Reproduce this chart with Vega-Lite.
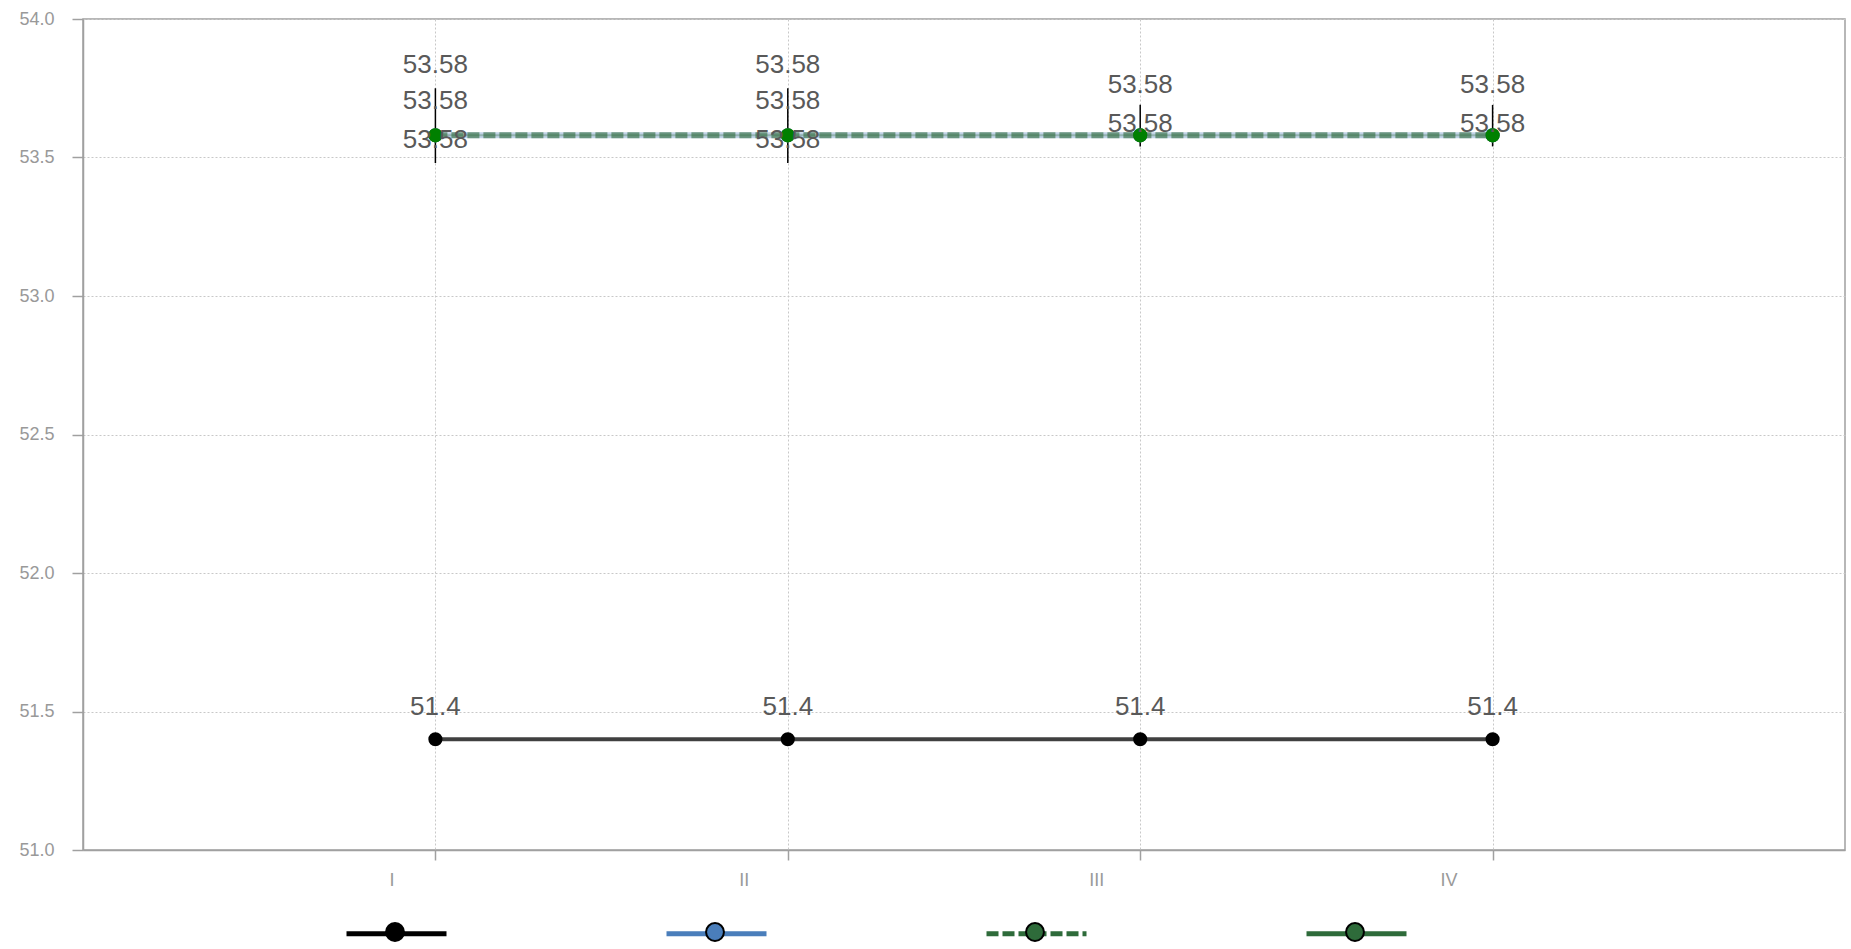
{
  "$schema": "https://vega.github.io/schema/vega-lite/v6.json",
  "width": 1762,
  "height": 831,
  "autosize": {"type": "none"},
  "padding": {"left": 83, "top": 19, "right": 6, "bottom": 99},
  "background": "white",
  "datasets": {
    "main": [
      {"quarter": "I", "series": "S1", "value": 51.4},
      {"quarter": "II", "series": "S1", "value": 51.4},
      {"quarter": "III", "series": "S1", "value": 51.4},
      {"quarter": "IV", "series": "S1", "value": 51.4},
      {"quarter": "I", "series": "S2", "value": 53.58},
      {"quarter": "II", "series": "S2", "value": 53.58},
      {"quarter": "III", "series": "S2", "value": 53.58},
      {"quarter": "IV", "series": "S2", "value": 53.58},
      {"quarter": "I", "series": "S3", "value": 53.58},
      {"quarter": "II", "series": "S3", "value": 53.58},
      {"quarter": "III", "series": "S3", "value": 53.58},
      {"quarter": "IV", "series": "S3", "value": 53.58},
      {"quarter": "I", "series": "S4", "value": 53.58},
      {"quarter": "II", "series": "S4", "value": 53.58},
      {"quarter": "III", "series": "S4", "value": 53.58},
      {"quarter": "IV", "series": "S4", "value": 53.58}
    ],
    "bars": [
      {"quarter": "I", "low": 53.48, "high": 53.75},
      {"quarter": "II", "low": 53.48, "high": 53.75},
      {"quarter": "III", "low": 53.54, "high": 53.69},
      {"quarter": "IV", "low": 53.54, "high": 53.69}
    ]
  },
  "data": {"name": "main"},
  "encoding": {
    "x": {
      "field": "quarter",
      "type": "ordinal",
      "scale": {"type": "point", "padding": 1, "domain": ["I", "II", "III", "IV"]},
      "axis": {"title": null, "grid": true, "labelAngle": 0, "tickSize": 10, "labelOffset": -44, "labelPadding": 11}
    }
  },
  "layer": [
    {
      "data": {"name": "bars"},
      "mark": {"type": "rule", "color": "#000000", "strokeWidth": 1.5},
      "encoding": {
        "y": {
          "field": "high",
          "type": "quantitative",
          "scale": {"domain": [51, 54], "zero": false, "nice": false},
          "axis": {"title": null, "values": [51, 51.5, 52, 52.5, 53, 53.5, 54], "format": ".1f", "tickSize": 11, "labelPadding": 18}
        },
        "y2": {"field": "low"}
      }
    },
    {
      "transform": [{"filter": "datum.series == 'S1'"}],
      "mark": {"type": "line", "strokeWidth": 4, "strokeOpacity": 0.75},
      "encoding": {
        "y": {"field": "value", "type": "quantitative"},
        "stroke": {
          "field": "series",
          "type": "nominal",
          "scale": {"range": ["#000000", "#4a7ebb", "#2e6b3a", "#2e6b3a"]},
          "legend": {
            "orient": "none", "legendX": 261, "legendY": 862, "direction": "horizontal",
            "title": null, "labelExpr": "''", "symbolType": "stroke", "symbolSize": 10000,
            "symbolStrokeWidth": 5, "symbolOpacity": 1, "columnPadding": 199, "labelOffset": 0
          }
        },
        "strokeDash": {
          "field": "series",
          "type": "nominal",
          "scale": {"range": [[1, 0], [1, 0], [12, 4], [1, 0]]},
          "legend": {
            "orient": "none", "legendX": 261, "legendY": 862, "direction": "horizontal",
            "title": null, "labelExpr": "''", "symbolType": "stroke", "symbolSize": 10000,
            "symbolStrokeWidth": 5, "symbolOpacity": 1, "columnPadding": 199, "labelOffset": 0
          }
        }
      }
    },
    {
      "transform": [{"filter": "datum.series == 'S2'"}],
      "mark": {"type": "line", "strokeWidth": 6, "strokeOpacity": 0.35},
      "encoding": {
        "y": {"field": "value", "type": "quantitative"},
        "stroke": {"field": "series", "type": "nominal"},
        "strokeDash": {"field": "series", "type": "nominal"}
      }
    },
    {
      "transform": [{"filter": "datum.series == 'S3'"}],
      "mark": {"type": "line", "strokeWidth": 6, "strokeOpacity": 0.6},
      "encoding": {
        "y": {"field": "value", "type": "quantitative"},
        "stroke": {"field": "series", "type": "nominal"},
        "strokeDash": {"field": "series", "type": "nominal"}
      }
    },
    {
      "transform": [{"filter": "datum.series == 'S4'"}],
      "mark": {"type": "line", "strokeWidth": 2, "strokeOpacity": 0.3},
      "encoding": {
        "y": {"field": "value", "type": "quantitative"},
        "stroke": {"field": "series", "type": "nominal"},
        "strokeDash": {"field": "series", "type": "nominal"}
      }
    },
    {
      "transform": [{"filter": "datum.series != 'S4'"}],
      "mark": {"type": "point", "filled": true, "size": 200, "opacity": 1},
      "encoding": {
        "y": {"field": "value", "type": "quantitative"},
        "fill": {
          "field": "series",
          "type": "nominal",
          "scale": {"domain": ["S1", "S2", "S3", "S4"], "range": ["#000000", "#4a7ebb", "#2e6b3a", "#2e6b3a"]},
          "legend": {
            "orient": "none", "legendX": 302, "legendY": 903, "direction": "horizontal",
            "title": null, "labelExpr": "''", "symbolType": "circle", "symbolSize": 320,
            "symbolStrokeColor": "#000000", "symbolStrokeWidth": 2, "symbolOpacity": 1,
            "columnPadding": 294, "labelOffset": 0
          }
        }
      }
    },
    {
      "transform": [{"filter": "datum.series == 'S4'"}],
      "mark": {"type": "point", "filled": true, "size": 200, "opacity": 1, "color": "#008000"},
      "encoding": {"y": {"field": "value", "type": "quantitative"}}
    },
    {
      "transform": [{"filter": "datum.series == 'S1'"}],
      "mark": {"type": "text", "dy": -32, "baseline": "middle", "font": "Liberation Sans", "fontSize": 26, "color": "#595959"},
      "encoding": {"y": {"field": "value", "type": "quantitative"}, "text": {"field": "value", "type": "quantitative"}}
    },
    {
      "transform": [{"filter": "datum.series == 'S4' && (datum.quarter == 'I' || datum.quarter == 'II')"}],
      "mark": {"type": "text", "dy": -70, "baseline": "middle", "font": "Liberation Sans", "fontSize": 26, "color": "#595959"},
      "encoding": {"y": {"field": "value", "type": "quantitative"}, "text": {"field": "value", "type": "quantitative"}}
    },
    {
      "transform": [{"filter": "datum.series == 'S3' && (datum.quarter == 'I' || datum.quarter == 'II')"}],
      "mark": {"type": "text", "dy": -34, "baseline": "middle", "font": "Liberation Sans", "fontSize": 26, "color": "#595959"},
      "encoding": {"y": {"field": "value", "type": "quantitative"}, "text": {"field": "value", "type": "quantitative"}}
    },
    {
      "transform": [{"filter": "datum.series == 'S2' && (datum.quarter == 'I' || datum.quarter == 'II')"}],
      "mark": {"type": "text", "dy": 5, "baseline": "middle", "font": "Liberation Sans", "fontSize": 26, "color": "#595959"},
      "encoding": {"y": {"field": "value", "type": "quantitative"}, "text": {"field": "value", "type": "quantitative"}}
    },
    {
      "transform": [{"filter": "datum.series == 'S4' && (datum.quarter == 'III' || datum.quarter == 'IV')"}],
      "mark": {"type": "text", "dy": -50, "baseline": "middle", "font": "Liberation Sans", "fontSize": 26, "color": "#595959"},
      "encoding": {"y": {"field": "value", "type": "quantitative"}, "text": {"field": "value", "type": "quantitative"}}
    },
    {
      "transform": [{"filter": "datum.series == 'S3' && (datum.quarter == 'III' || datum.quarter == 'IV')"}],
      "mark": {"type": "text", "dy": -11, "baseline": "middle", "font": "Liberation Sans", "fontSize": 26, "color": "#595959"},
      "encoding": {"y": {"field": "value", "type": "quantitative"}, "text": {"field": "value", "type": "quantitative"}}
    }
  ],
  "config": {
    "view": {"stroke": "#a0a0a0", "strokeWidth": 1.5},
    "axis": {
      "domainColor": "#a0a0a0",
      "domainWidth": 1.5,
      "tickColor": "#a0a0a0",
      "tickWidth": 1.5,
      "gridColor": "#c8c8c8",
      "gridDash": [2, 2],
      "gridWidth": 1,
      "labelColor": "#999999",
      "labelFont": "Liberation Sans",
      "labelFontSize": 18
    }
  }
}
